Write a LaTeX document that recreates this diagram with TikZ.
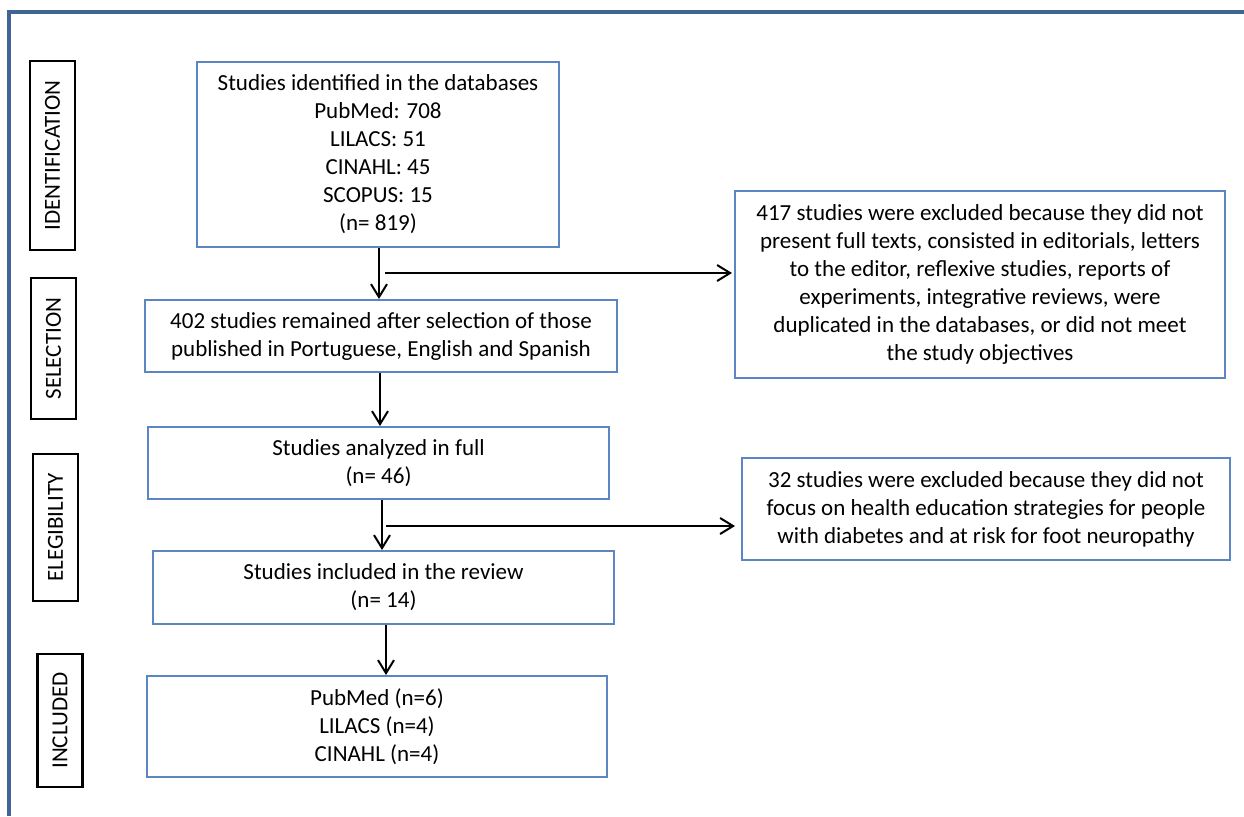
\documentclass[tikz,border=0pt]{standalone}
\usepackage{fontspec}
\setmainfont{Carlito}
\usepackage{tikz}
\usetikzlibrary{arrows.meta,positioning,calc}
\definecolor{caixaazul}{HTML}{5B86C3}
\definecolor{moldura}{HTML}{3F6595}
\tikzset{
    caixa/.style={
        rectangle,
        draw=caixaazul,
        line width=1pt,
        align=center,
        inner sep=0pt
    },
    etapa/.style={
        rectangle,
        draw=black,
        line width=1.4pt,
        rotate=90,
        inner sep=0pt,
        minimum height=22.5pt
    },
    fluxo/.style={-{Straight Barb[length=6.5pt,width=8pt]}, line width=1pt}
}

\begin{document}
\begin{tikzpicture}[x=0.5pt, y=-0.5pt, font=\fontsize{11.5pt}{14pt}\selectfont]
        \useasboundingbox (0,0) rectangle (1244,816);
        \draw[moldura, line width=2pt] (9,816) -- (9,12) -- (1244,12);

        % etapas
        \node[etapa, minimum width=94.5pt] (ident) at (52.5,155.5) {IDENTIFICATION};
        \node[etapa, minimum width=70.5pt] (selec) at (53.5,348.5) {SELECTION};
        \node[etapa, minimum width=73.5pt] (eleg) at (55.5,527.5) {ELEGIBILITY};
        \node[etapa, minimum width=66.5pt] (incl) at (60,720.5) {INCLUDED};

        % caixas principais
        \node[caixa, minimum width=181pt, minimum height=92.5pt] (bases) at (378,154.5)
            {Studies identified in the databases\\PubMed: 708\\LILACS: 51\\CINAHL: 45\\SCOPUS: 15\\(n= 819)};
        \node[caixa, minimum width=236pt, minimum height=36pt] (idioma) at (381,336)
            {402 studies remained after selection of those\\published in Portuguese, English and Spanish};
        \node[caixa, minimum width=230.5pt, minimum height=36pt] (analise) at (378.5,463)
            {Studies analyzed in full\\(n= 46)};
        \node[caixa, minimum width=230.5pt, minimum height=36.5pt] (revisao) at (383.5,587.5)
            {Studies included in the review\\(n= 14)};
        \node[caixa, minimum width=230pt, minimum height=50.5pt] (finais) at (377,726.5)
            {PubMed (n=6)\\LILACS (n=4)\\CINAHL (n=4)};

        % exclusoes
        \node[caixa, minimum width=245pt, minimum height=93.5pt] (excl1) at (980,284.5)
            {417 studies were excluded because they did not\\present full texts, consisted in editorials, letters\\to the editor, reflexive studies, reports of\\experiments, integrative reviews, were\\duplicated in the databases, or did not meet\\the study objectives};
        \node[caixa, minimum width=244pt, minimum height=51pt] (excl2) at (986,509)
            {32 studies were excluded because they did not\\focus on health education strategies for people\\with diabetes and at risk for foot neuropathy};

        \coordinate (desvio1) at (385,273);
        \coordinate (desvio2) at (386,526);

        \draw[fluxo] (379,0 |- bases.south) -- (379,0 |- idioma.north);
        \draw[fluxo] (desvio1) -- ($(desvio1 -| excl1.west)+(-2,0)$);
        \draw[fluxo] (380,0 |- idioma.south) -- (380,0 |- analise.north);
        \draw[fluxo] (382,0 |- analise.south) -- (382,0 |- revisao.north);
        \draw[fluxo] (desvio2) -- ($(desvio2 -| excl2.west)+(-6,0)$);
        \draw[fluxo] (386,0 |- revisao.south) -- (386,0 |- finais.north);
    \end{tikzpicture}
\end{document}
